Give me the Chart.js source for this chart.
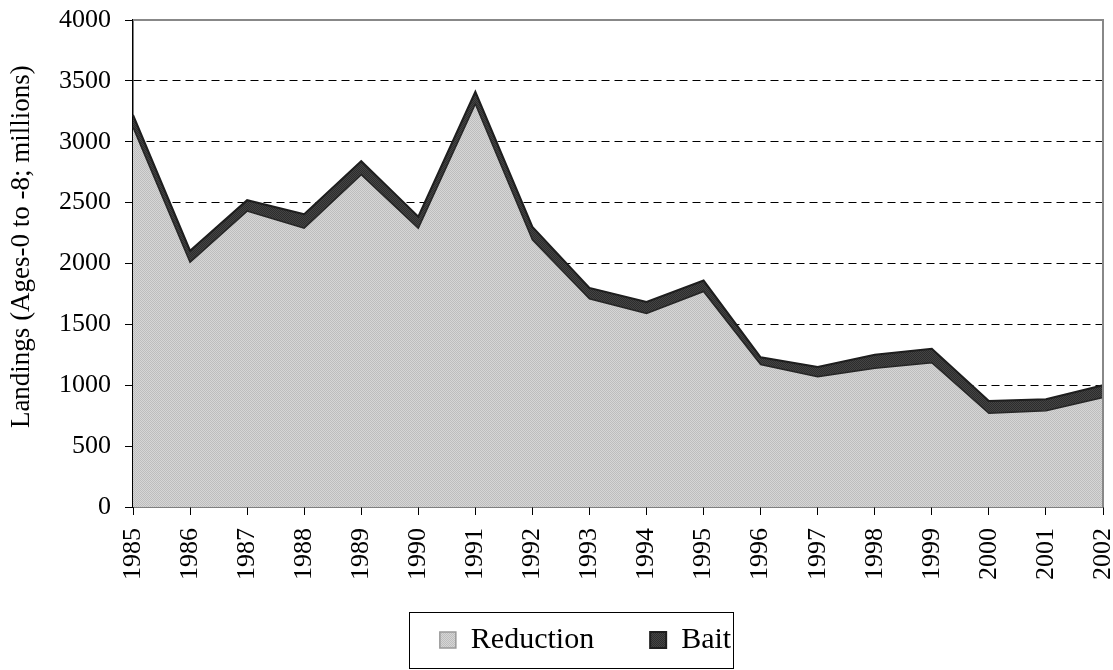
<!DOCTYPE html>
<html>
<head>
<meta charset="utf-8">
<script src="https://cdn.jsdelivr.net/npm/chart.js@4.4.1/dist/chart.umd.min.js"></script>
<style>
  html, body { margin: 0; padding: 0; background: #fff; }
  #wrap { width: 1113px; height: 670px; }
</style>
</head>
<body>
<div id="wrap"><canvas id="my-chart" width="1113" height="670"></canvas></div>
<script>
// data
const years = ['1985','1986','1987','1988','1989','1990','1991','1992','1993',
  '1994','1995','1996','1997','1998','1999','2000','2001','2002'];
const reduction = [3120, 2010, 2430, 2290, 2730, 2290, 3310, 2195, 1710,
  1590, 1770, 1170, 1070, 1140, 1185, 770, 790, 900];
const bait = [100, 95, 90, 115, 110, 95, 100, 105, 90,
  95, 90, 60, 80, 110, 115, 100, 95, 100];
const yTicks = [0, 500, 1000, 1500, 2000, 2500, 3000, 3500, 4000];

const serif = "'Liberation Serif', 'Times New Roman', serif";

// little checker fills, like the old excel patterns
function makePattern(c1, c2) {
  const cv = document.createElement('canvas');
  cv.width = 2; cv.height = 2;
  const g = cv.getContext('2d');
  g.fillStyle = c1; g.fillRect(0, 0, 2, 2);
  g.fillStyle = c2; g.fillRect(0, 0, 1, 1); g.fillRect(1, 1, 1, 1);
  return g.createPattern(cv, 'repeat');
}
const redFill = makePattern('#d6d6d6', '#bdbdbd');
const baitFill = makePattern('#454545', '#2c2c2c');

// gray frame on top/right + box round the legend
const framePlugin = {
  id: 'frame',
  afterLayout(chart) {
    // put the legend where the original has it
    const lg = chart.legend;
    lg.left += 34;
    lg.right += 34;
    lg.top -= 13;
    lg.bottom -= 13;
  },
  afterDatasetsDraw(chart) {
    const {ctx, chartArea: a} = chart;
    ctx.save();
    ctx.strokeStyle = '#888';
    ctx.lineWidth = 2;
    ctx.beginPath();
    ctx.moveTo(a.left, a.top);
    ctx.lineTo(a.right, a.top);
    ctx.lineTo(a.right, a.bottom);
    ctx.stroke();
    ctx.restore();
  },
  afterDraw(chart) {
    const boxes = chart.legend.legendHitBoxes;
    if (!boxes || !boxes.length) return;
    const first = boxes[0], last = boxes[boxes.length - 1];
    const ctx = chart.ctx;
    ctx.save();
    ctx.strokeStyle = '#000';
    ctx.lineWidth = 1;
    const x0 = Math.round(first.left - 31) + 0.5;
    const x1 = Math.round(last.left + last.width + 2) + 0.5;
    const y0 = Math.round(first.top - 13) + 0.5;
    const y1 = Math.round(first.top + 43) + 0.5;
    ctx.strokeRect(x0, y0, x1 - x0, y1 - y0);
    ctx.restore();
  }
};

const ctx = document.getElementById('my-chart').getContext('2d');
const chart = new Chart(ctx, {
  type: 'line',
  data: {
    labels: years,
    datasets: [
      {
        label: 'Reduction',
        data: reduction,
        fill: 'origin',
        backgroundColor: redFill,
        borderColor: '#262626',
        borderWidth: 1.5,
        pointRadius: 0,
        tension: 0
      },
      {
        label: 'Bait',
        data: bait,
        fill: '-1',
        backgroundColor: baitFill,
        borderColor: '#1e1e1e',
        borderWidth: 2,
        pointRadius: 0,
        tension: 0
      }
    ]
  },
  options: {
    responsive: false,
    animation: false,
    devicePixelRatio: 1,
    layout: { padding: { top: 20, right: 10, bottom: 5, left: 0 } },
    plugins: {
      tooltip: { enabled: false },
      legend: {
        position: 'bottom',
        maxHeight: 83,
        labels: {
          color: '#000',
          font: { family: serif, size: 30 },
          boxWidth: 16,
          boxHeight: 16,
          padding: 56,
          generateLabels(chart) {
            const items = Chart.defaults.plugins.legend.labels.generateLabels(chart);
            items[0].strokeStyle = '#999';   // light box edge for Reduction
            items[0].lineWidth = 1.5;
            return items;
          }
        }
      }
    },
    scales: {
      x: {
        offset: false,
        afterFit(scale) {
          scale.height = 75;
          scale.paddingLeft = 0;
          scale.paddingRight = 0;
        },
        grid: {
          display: true,
          drawOnChartArea: false,
          drawTicks: true,
          tickLength: 8,
          tickColor: '#000',
          tickWidth: 1
        },
        border: { display: true, color: '#000', width: 1.5 },
        ticks: {
          color: '#000',
          font: { family: serif, size: 26 },
          minRotation: 90,
          maxRotation: 90,
          padding: 13,
          autoSkip: false
        }
      },
      y: {
        stacked: true,
        min: 0,
        max: 4000,
        afterFit(scale) {
          scale.width = 133;
          scale.paddingTop = 0;
          scale.paddingBottom = 0;
        },
        afterBuildTicks(scale) { scale.ticks = yTicks.map(v => ({ value: v })); },
        grid: {
          color: c => (c.tick && (c.tick.value === 0 || c.tick.value === 4000)) ? 'rgba(0,0,0,0)' : '#000',
          lineWidth: 1,
          drawTicks: true,
          tickLength: 8,
          tickColor: '#000',
          tickWidth: 1,
          tickBorderDash: []
        },
        border: { display: true, color: '#000', width: 1.5, dash: [8, 5] },
        ticks: {
          color: '#000',
          font: { family: serif, size: 26 },
          padding: 14,
          callback: v => String(v)
        },
        title: {
          display: true,
          // leading spaces nudge the text up a little, as in the original
          text: '     Landings (Ages-0 to -8; millions)',
          color: '#000',
          font: { family: serif, size: 27 },
          padding: { top: 6, bottom: 4 }
        }
      }
    }
  },
  plugins: [framePlugin]
});
</script>
</body>
</html>
